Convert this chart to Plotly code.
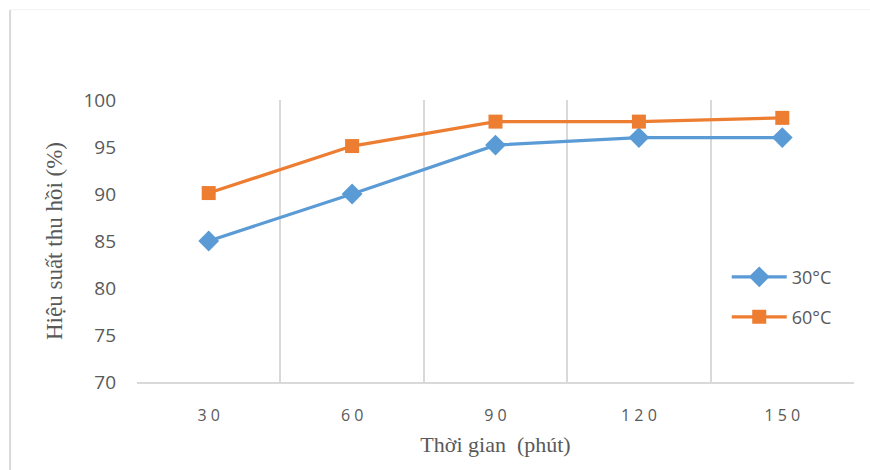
import plotly.graph_objects as go

categories = ["3 0", "6 0", "9 0", "1 2 0", "1 5 0"]
series_30 = [85.0, 90.0, 95.2, 96.0, 96.0]
series_60 = [90.1, 95.1, 97.7, 97.7, 98.1]
y_ticks = [70, 75, 80, 85, 90, 95, 100]

xpos = list(range(len(categories)))

fig = go.Figure()
fig.add_trace(go.Scatter(
    x=xpos, y=series_30, name="30°C", mode="lines+markers",
    line=dict(color="#5B9BD5", width=3.2),
    marker=dict(symbol="diamond", size=16, color="#5B9BD5"),
    legend="legend",
))
fig.add_trace(go.Scatter(
    x=xpos, y=series_60, name="60°C", mode="lines+markers",
    line=dict(color="#ED7D31", width=3.2),
    marker=dict(symbol="square", size=14, color="#ED7D31"),
    legend="legend2",
))

bounds = [i - 0.5 for i in range(len(categories) + 1)]
leg_font = dict(family="Open Sans, Liberation Sans, sans-serif", size=18, color="#595959")

fig.update_layout(
    width=870, height=470,
    margin=dict(l=137, r=16, t=100, b=88),
    paper_bgcolor="white", plot_bgcolor="white",
    showlegend=True,
    legend=dict(
        x=0.8225, y=0.372, xanchor="left", yanchor="middle",
        font=leg_font, bgcolor="rgba(0,0,0,0)", itemwidth=55,
    ),
    legend2=dict(
        x=0.8225, y=0.230, xanchor="left", yanchor="middle",
        font=leg_font, bgcolor="rgba(0,0,0,0)", itemwidth=55,
    ),
    xaxis=dict(
        range=[-0.5, len(categories) - 0.5],
        tickmode="array", tickvals=xpos, ticktext=categories,
        showgrid=False, zeroline=False,
        showline=True, linecolor="#D9D9D9", linewidth=1.5,
        ticks="", ticklabelstandoff=18,
        tickfont=dict(family="Open Sans, Liberation Sans, sans-serif", size=16, color="#595959"),
        minor=dict(tickmode="array", tickvals=bounds, showgrid=True,
                   gridcolor="#D9D9D9", gridwidth=1.5),
        title=dict(text="Thời gian  (phút)", standoff=12,
                   font=dict(family="Liberation Serif, Times New Roman, serif", size=22, color="#595959")),
    ),
    yaxis=dict(
        range=[70, 100], tickmode="array", tickvals=y_ticks,
        showgrid=False, zeroline=False, showline=False,
        ticks="", ticklabelstandoff=20,
        tickfont=dict(family="Open Sans, Liberation Sans, sans-serif", size=19, color="#595959"),
        title=dict(text="Hiệu suất thu hồi (%)", standoff=14,
                   font=dict(family="Liberation Serif, Times New Roman, serif", size=23, color="#595959")),
    ),
    shapes=[
        dict(type="line", xref="paper", yref="paper", x0=-0.177, x1=-0.177, y0=-1, y1=1.32,
             line=dict(color="#D9D9D9", width=2)),
        dict(type="line", xref="paper", yref="paper", x0=-0.177, x1=1.03, y0=1.32, y1=1.32,
             line=dict(color="#F2F2F2", width=1)),
    ],
)

fig.write_html("out.html")
